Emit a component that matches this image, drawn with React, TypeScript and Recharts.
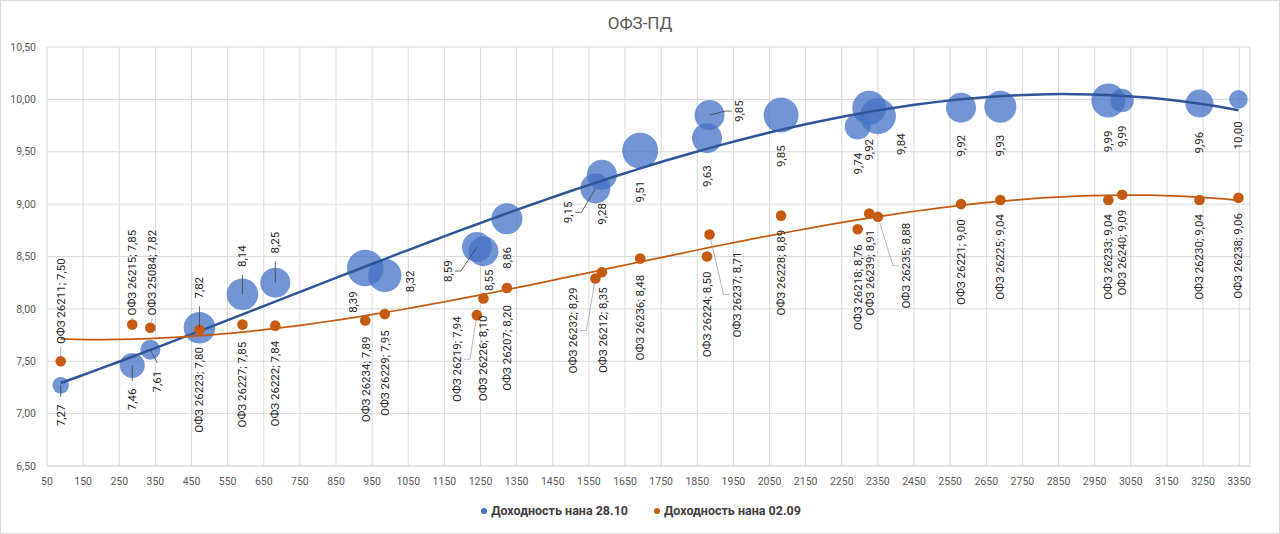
import React from "react";
import { ScatterChart, Scatter, XAxis, YAxis, ZAxis, CartesianGrid } from "recharts";

// ОФЗ-ПД: yield vs. duration (days), two dates
const bonds = [
  "ОФЗ 26211", "ОФЗ 26215", "ОФЗ 25084", "ОФЗ 26223", "ОФЗ 26227", "ОФЗ 26222",
  "ОФЗ 26234", "ОФЗ 26229", "ОФЗ 26219", "ОФЗ 26226", "ОФЗ 26207", "ОФЗ 26232",
  "ОФЗ 26212", "ОФЗ 26236", "ОФЗ 26224", "ОФЗ 26237", "ОФЗ 26228", "ОФЗ 26218",
  "ОФЗ 26239", "ОФЗ 26235", "ОФЗ 26221", "ОФЗ 26225", "ОФЗ 26233", "ОФЗ 26240",
  "ОФЗ 26230", "ОФЗ 26238",
];
const duration = [
  88, 286, 336, 472, 591, 682, 931, 985, 1240, 1258, 1323, 1568, 1586, 1692, 1877,
  1884, 2082, 2294, 2326, 2350, 2580, 2689, 2988, 3026, 3240, 3348,
];
const yield2810 = [
  7.27, 7.46, 7.61, 7.82, 8.14, 8.25, 8.39, 8.32, 8.59, 8.55, 8.86, 9.15, 9.28, 9.51,
  9.63, 9.85, 9.85, 9.74, 9.92, 9.84, 9.92, 9.93, 9.99, 9.99, 9.96, 10.0,
];
const yield0209 = [
  7.5, 7.85, 7.82, 7.8, 7.85, 7.84, 7.89, 7.95, 7.94, 8.1, 8.2, 8.29, 8.35, 8.48,
  8.5, 8.71, 8.89, 8.76, 8.91, 8.88, 9.0, 9.04, 9.04, 9.09, 9.04, 9.06,
];
// bubble size (relative volume)
const bubbleSize = [
  69, 156, 100, 250, 250, 225, 335, 279, 225, 225, 240, 225, 225, 324, 225, 225, 306,
  169, 289, 324, 225, 256, 289, 137, 196, 86,
];
const xTicks = Array.from({ length: 34 }, (_, i) => 50 + i * 100);
const yTicks = [6.5, 7, 7.5, 8, 8.5, 9, 9.5, 10, 10.5];
const seriesNames = ["Доходность нана 28.10", "Доходность нана 02.09"];

// label placement [dx, dy, leader line]
const blueLabelPos: [number, number, boolean][] = [
  [0, 30, true], [0, 34, true], [7, 32, true], [0, -40, true], [0, -38, true], [0, -40, true],
  [-12, 34, false], [25, 6, false], [-29, 24, true], [6, 29, false], [0, 39, false],
  [-27, 24, true], [0, 39, false], [0, 41, false], [0, 38, false], [29, -4, true],
  [0, 41, false], [0, 37, false], [0, 42, false], [23, 28, false], [0, 38, false],
  [0, 39, false], [0, 41, false], [0, 36, false], [0, 39, false], [0, 36, false],
];
const orangeLabelPos: [number, number, boolean][] = [
  [0, -60, true], [0, -52, true], [2, -55, true], [0, 60, false], [0, 60, false], [0, 58, false],
  [1, 59, false], [0, 59, false], [-20, 44, true], [0, 60, false], [0, 60, false],
  [-22, 52, true], [1, 58, false], [0, 59, false], [0, 58, false], [27, 60, true],
  [0, 57, false], [0, 58, false], [1, 59, false], [28, 49, true], [0, 58, false],
  [0, 57, false], [0, 57, false], [0, 58, false], [0, 57, false], [0, 58, false],
];

const BLUE = "#4472C4";
const BLUE_LINE = "#2F5597";
const ORANGE = "#C55A11";
const FONT = "Roboto, 'Liberation Sans', sans-serif";

const fmt = (v: number) => v.toFixed(2).replace(".", ",");

function polyFit(xs: number[], ys: number[], deg: number) {
  const n = deg + 1;
  const A = Array.from({ length: n }, () => new Array(n + 1).fill(0));
  xs.forEach((x0, k) => {
    const x = x0 / 1000;
    for (let i = 0; i < n; i++) {
      for (let j = 0; j < n; j++) A[i][j] += x ** (i + j);
      A[i][n] += ys[k] * x ** i;
    }
  });
  for (let i = 0; i < n; i++) {
    let p = i;
    for (let r = i + 1; r < n; r++) if (Math.abs(A[r][i]) > Math.abs(A[p][i])) p = r;
    [A[i], A[p]] = [A[p], A[i]];
    for (let r = 0; r < n; r++) {
      if (r === i) continue;
      const f = A[r][i] / A[i][i];
      for (let c = i; c <= n; c++) A[r][c] -= f * A[i][c];
    }
  }
  const coef = A.map((row, i) => row[n] / row[i]);
  return (x0: number) => coef.reduce((s, c, i) => s + c * (x0 / 1000) ** i, 0);
}

function trend(ys: number[]) {
  const f = polyFit(duration, ys, 3);
  const lo = Math.min(...duration);
  const hi = Math.max(...duration);
  return Array.from({ length: 81 }, (_, i) => {
    const x = lo + ((hi - lo) * i) / 80;
    return { x, y: f(x) };
  });
}

const blueData = duration.map((x, i) => ({ i, x, y: yield2810[i], z: bubbleSize[i] }));
const orangeData = duration.map((x, i) => ({ i, x, y: yield0209[i] }));
const blueTrend = trend(yield2810);
const orangeTrend = trend(yield0209);

const Bubble = (p: any) => {
  const r = p.width ? p.width / 2 : Math.sqrt((p.size || 64) / Math.PI);
  return <circle cx={p.cx} cy={p.cy} r={r} fill={BLUE} fillOpacity={0.75} />;
};
const Dot = (p: any) => <circle cx={p.cx} cy={p.cy} r={5.3} fill={ORANGE} />;
const Nothing = () => <g />;

function makeLabel(kind: "blue" | "orange") {
  return (p: any) => {
    const i = p.payload.i;
    const { cx, cy } = p;
    const [dx, dy, leader] = kind === "blue" ? blueLabelPos[i] : orangeLabelPos[i];
    const text =
      kind === "blue" ? fmt(yield2810[i]) : `${bonds[i]}; ${fmt(yield0209[i])}`;
    const lx = cx + dx;
    const ly = cy + dy;
    const half = text.length * 2.9;
    let path = "";
    if (leader) {
      let pts: [number, number][];
      if (Math.abs(dx) > 10) {
        const s = Math.sign(dx);
        const tx = lx - s * 7;
        pts = [[tx - s * 6, ly], [tx, ly]];
      } else {
        const s = Math.sign(dy);
        const gap = kind === "blue" ? 7 : 2;
        pts = [[lx, ly - s * (half + gap)]];
      }
      let sx = cx;
      let sy = cy;
      if (kind === "orange") {
        const vx = pts[0][0] - cx;
        const vy = pts[0][1] - cy;
        const d = Math.hypot(vx, vy) || 1;
        sx = cx + (vx / d) * 5.3;
        sy = cy + (vy / d) * 5.3;
      }
      path = `M${sx},${sy}` + pts.map((q) => `L${q[0]},${q[1]}`).join("");
    }
    return (
      <g>
        {path && (
          <path
            d={path}
            fill="none"
            stroke={kind === "blue" ? "#404040" : "#a6a6a6"}
            strokeWidth={0.8}
          />
        )}
        <text
          x={lx}
          y={ly}
          transform={`rotate(-90 ${lx} ${ly})`}
          textAnchor="middle"
          dominantBaseline="central"
          fontSize={11.5}
          fontFamily={FONT}
          fill="#262626"
        >
          {text}
        </text>
      </g>
    );
  };
}

export default function App() {
  return (
    <div
      style={{
        position: "absolute",
        left: 0,
        top: 0,
        width: 1280,
        height: 534,
        boxSizing: "border-box",
        border: "1px solid #d9d9d9",
        background: "#fff",
        fontFamily: FONT,
      }}
    >
      <style>{"body{margin:0}"}</style>
      <div
        style={{
          position: "absolute",
          top: 12,
          left: 0,
          width: 1278,
          textAlign: "center",
          fontSize: 17,
          color: "#595959",
        }}
      >
        ОФЗ-ПД
      </div>
      <div style={{ position: "absolute", left: -1, top: -1 }}>
        <ScatterChart width={1280} height={534} margin={{ top: 47, right: 30, left: 0, bottom: 38 }}>
          <CartesianGrid stroke="#d9d9d9" strokeWidth={1} />
          <XAxis
            type="number"
            dataKey="x"
            domain={[50, 3380]}
            ticks={xTicks}
            interval={0}
            height={30}
            tickSize={0}
            tickMargin={12}
            axisLine={{ stroke: "#d9d9d9" }}
            tickLine={false}
            tick={{ fontSize: 10.5, fill: "#595959", fontFamily: FONT }}
          />
          <YAxis
            type="number"
            dataKey="y"
            domain={[6.5, 10.5]}
            ticks={yTicks}
            width={47}
            tickSize={0}
            tickMargin={11}
            axisLine={false}
            tickLine={false}
            tickFormatter={fmt}
            tick={{ fontSize: 10.5, fill: "#595959", fontFamily: FONT }}
          />
          <ZAxis zAxisId="bubble" type="number" dataKey="z" domain={[0, 400]} range={[0, 400 * Math.PI]} />
          <ZAxis zAxisId="flat" type="number" range={[64, 64]} />
          <Scatter
            name={seriesNames[0]}
            data={blueData}
            zAxisId="bubble"
            shape={Bubble}
            isAnimationActive={false}
          />
          <Scatter
            data={blueTrend}
            zAxisId="flat"
            line={{ stroke: BLUE_LINE, strokeWidth: 2.5 }}
            lineType="joint"
            shape={Nothing}
            legendType="none"
            isAnimationActive={false}
          />
          <Scatter
            data={orangeTrend}
            zAxisId="flat"
            line={{ stroke: ORANGE, strokeWidth: 1.75 }}
            lineType="joint"
            shape={Nothing}
            legendType="none"
            isAnimationActive={false}
          />
          <Scatter
            name={seriesNames[1]}
            data={orangeData}
            zAxisId="flat"
            shape={Dot}
            isAnimationActive={false}
          />
          <Scatter
            data={blueData}
            zAxisId="flat"
            shape={makeLabel("blue")}
            legendType="none"
            isAnimationActive={false}
          />
          <Scatter
            data={orangeData}
            zAxisId="flat"
            shape={makeLabel("orange")}
            legendType="none"
            isAnimationActive={false}
          />
        </ScatterChart>
      </div>
      <div
        style={{
          position: "absolute",
          top: 502,
          left: 0,
          width: 1280,
          display: "flex",
          justifyContent: "center",
          gap: 26,
          fontSize: 12.5,
          fontWeight: 700,
          color: "#404040",
        }}
      >
        {seriesNames.map((n, i) => (
          <span key={n} style={{ display: "flex", alignItems: "center", gap: 4 }}>
            <span
              style={{
                width: 6,
                height: 6,
                borderRadius: 3,
                background: i === 0 ? BLUE : ORANGE,
                display: "inline-block",
              }}
            />
            {n}
          </span>
        ))}
      </div>
    </div>
  );
}
